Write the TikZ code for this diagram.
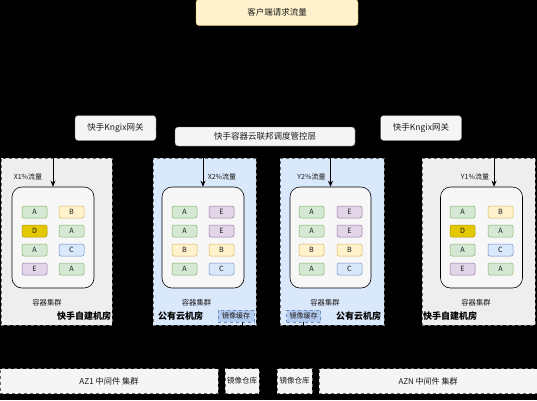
\documentclass[tikz,border=0pt]{standalone}
\usepackage{fontspec}
\setmainfont{Noto Sans CJK SC}
\usetikzlibrary{arrows.meta,calc}
\definecolor{gfill}{HTML}{D5E8D4}\definecolor{gline}{HTML}{82B366}
\definecolor{yfill}{HTML}{FFF2CC}\definecolor{yline}{HTML}{D6B656}
\definecolor{dfill}{HTML}{E3C800}\definecolor{dline}{HTML}{B09500}
\definecolor{bfill}{HTML}{DAE8FC}\definecolor{bline}{HTML}{6C8EBF}
\definecolor{pfill}{HTML}{E1D5E7}\definecolor{pline}{HTML}{9673A6}
\definecolor{lgray}{HTML}{F5F5F5}\definecolor{roomgray}{HTML}{EEEEEE}
\definecolor{dgray}{HTML}{666666}\definecolor{txt}{HTML}{1A1A1A}
\definecolor{cachefill}{HTML}{B3CBEE}
\newcommand{\fs}[1]{\fontsize{#1}{#1}\selectfont}
\tikzset{
  box/.style={draw=dgray, fill=lgray, rounded corners=3pt, inner sep=0pt, text=txt, font=\fs{8.5}},
  room/.style={draw=dgray, dashed, inner sep=0pt, line width=0.4pt},
  clus/.style={draw=black, fill=white!97!black, rounded corners=10pt, inner sep=0pt, line width=0.6pt},
  pod/.style={rounded corners=2pt, minimum width=25pt, minimum height=12pt, inner sep=0pt, text=txt, font=\fs{7.2}, line width=0.5pt},
  pa/.style={pod, draw=gline, fill=gfill},
  pb/.style={pod, draw=yline, fill=yfill},
  pd/.style={pod, draw=dline, fill=dfill},
  pc/.style={pod, draw=bline, fill=bfill},
  pe/.style={pod, draw=pline, fill=pfill},
  lbl/.style={inner sep=0pt, text=txt, font=\fs{7}},
  rlbl/.style={inner sep=0pt, text=black, font=\fs{9}\bfseries},
  cache/.style={draw=bline, dashed, fill=cachefill, inner sep=0pt, minimum width=35pt, minimum height=12pt, text=txt, font=\fs{7}},
  bot/.style={draw=dgray, dashed, fill=lgray, inner sep=0pt, minimum height=25pt, text=txt},
  conn/.style={draw=black, line width=0.8pt, -{Stealth[length=6pt,width=5pt]}},
}
\begin{document}
\begin{tikzpicture}[x=1pt,y=-1pt]
\fill[black] (0,0) rectangle (537,400);
\useasboundingbox (0,0) rectangle (537,400);
% top
\node[box, fill=yfill, draw=yline, minimum width=162pt, minimum height=26pt] (top) at (277,12.5) {客户端请求流量};
\node[box, minimum width=81pt, minimum height=25pt] (kl) at (115.5,128) {快手Kngix网关};
\node[box, minimum width=81pt, minimum height=25pt] (kr) at (421,128) {快手Kngix网关};
% rooms
\node[room, fill=roomgray, minimum width=111pt, minimum height=167pt] (r1) at (56.5,241.5) {};
\node[room, fill=bfill, minimum width=103pt, minimum height=167pt] (r2) at (204.5,241.5) {};
\node[room, fill=bfill, minimum width=104pt, minimum height=167pt] (r3) at (332,241.5) {};
\node[room, fill=roomgray, minimum width=113pt, minimum height=167pt] (r4) at (478.5,241.5) {};
% clusters
\node[clus, minimum width=82pt, minimum height=101pt] (c1) at (53,237.5) {};
\node[clus, minimum width=82pt, minimum height=101pt] (c2) at (203,237.5) {};
\node[clus, minimum width=81pt, minimum height=101pt] (c3) at (330.5,237.5) {};
\node[clus, minimum width=82pt, minimum height=101pt] (c4) at (481.5,237.5) {};
% pods cluster 1
\node[pa] (a11) at (34.5,212) {A}; \node[pb] (a12) at (71.5,212) {B};
\node[pd] (a21) at (34.5,231) {D}; \node[pa] (a22) at (71.5,231) {A};
\node[pa] (a31) at (34.5,250) {A}; \node[pc] (a32) at (71.5,250) {C};
\node[pe] (a41) at (34.5,269) {E}; \node[pa] (a42) at (71.5,269) {A};
% pods cluster 2
\node[pa] (b11) at (184.5,212) {A}; \node[pe] (b12) at (221.5,212) {E};
\node[pa] (b21) at (184.5,231) {A}; \node[pe] (b22) at (221.5,231) {E};
\node[pb] (b31) at (184.5,250) {B}; \node[pb] (b32) at (221.5,250) {B};
\node[pa] (b41) at (184.5,269) {A}; \node[pc] (b42) at (221.5,269) {C};
% pods cluster 3
\node[pa] (d11) at (311.5,212) {A}; \node[pe] (d12) at (349.5,212) {E};
\node[pa] (d21) at (311.5,231) {A}; \node[pe] (d22) at (349.5,231) {E};
\node[pb] (d31) at (311.5,250) {B}; \node[pb] (d32) at (349.5,250) {B};
\node[pa] (d41) at (311.5,269) {A}; \node[pc] (d42) at (349.5,269) {C};
% pods cluster 4
\node[pa] (e11) at (462.5,212) {A}; \node[pb] (e12) at (500.5,212) {B};
\node[pd] (e21) at (462.5,231) {D}; \node[pa] (e22) at (500.5,231) {A};
\node[pa] (e31) at (462.5,250) {A}; \node[pc] (e32) at (500.5,250) {C};
\node[pe] (e41) at (462.5,269) {E}; \node[pa] (e42) at (500.5,269) {A};
% flow labels
\node[lbl] (f1) at (28,177) {X1\%流量};
\node[lbl] (f2) at (222,177) {X2\%流量};
\node[lbl] (f3) at (311.5,177) {Y2\%流量};
\node[lbl] (f4) at (475,177) {Y1\%流量};
% cluster labels
\node[lbl, font=\fs{7.3}] (k1) at (47,303) {容器集群};
\node[lbl, font=\fs{7.3}] (k2) at (196.5,303) {容器集群};
\node[lbl, font=\fs{7.3}] (k3) at (325,303) {容器集群};
\node[lbl, font=\fs{7.3}] (k4) at (476,303) {容器集群};
% room labels
\node[rlbl] (n1) at (84,316) {快手自建机房};
\node[rlbl] (n2) at (180.5,316) {公有云机房};
\node[rlbl] (n3) at (358.5,316) {公有云机房};
\node[rlbl] (n4) at (450,316) {快手自建机房};
% caches
\node[cache, minimum width=36pt] (cl) at (236,316) {镜像缓存};
\node[cache, minimum width=34pt] (cr) at (303.5,316) {镜像缓存};
% bottom
\node[bot, minimum width=218pt, font=\fs{8.2}] (az1) at (109,381) {AZ1 中间件 集群};
\node[bot, minimum width=34pt, font=\fs{7.5}] (rl) at (242,381) {镜像仓库};
\node[bot, minimum width=35pt, font=\fs{7.5}] (rr) at (294.5,381) {镜像仓库};
\node[bot, minimum width=218pt, font=\fs{8}] (azn) at (428,381) {AZN 中间件 集群};
% connectors
\draw[conn] (top.west) -| (kl.north);
\draw[conn] (top.east) -| (kr.north);
\draw[conn] (kl.west) -| (c1.north);
\draw[conn] (kl.east) -| (c2.north);
\draw[conn] (kr.west) -| (c3.north);
\draw[conn] (kr.east) -| ($(c4.north)+(12.5,0)$);
\draw[conn] (rl.north |- cl.south) -- (rl.north);
\draw[conn] (cr.south) -- (cr.south |- rr.north);
% federation layer (drawn over connectors)
\node[box, minimum width=180pt, minimum height=19pt] (fed) at (265,136.5) {快手容器云联邦调度管控层};
\end{tikzpicture}
\end{document}
